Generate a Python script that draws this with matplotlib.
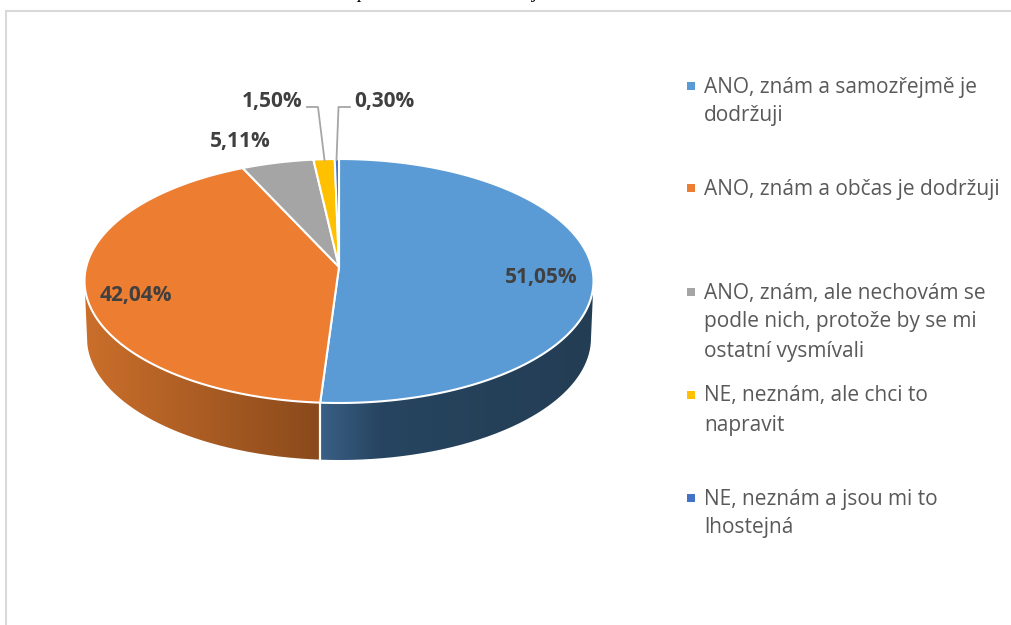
import numpy as np
import matplotlib
matplotlib.use("Agg")
import matplotlib.pyplot as plt
from matplotlib.colors import LinearSegmentedColormap
from matplotlib.patches import PathPatch, Rectangle
from matplotlib.path import Path

# Data
labels = [
    "ANO, znám a samozřejmě je\ndodržuji",
    "ANO, znám a občas je dodržuji",
    "ANO, znám, ale nechovám se\npodle nich, protože by se mi\nostatní vysmívali",
    "NE, neznám, ale chci to\nnapravit",
    "NE, neznám a jsou mi to\nlhostejná",
]
values = [51.05, 42.04, 5.11, 1.50, 0.30]
value_labels = ["51,05%", "42,04%", "5,11%", "1,50%", "0,30%"]
colors = ["#5b9bd5", "#ed7d31", "#a5a5a5", "#ffc000", "#4472c4"]

# Layout in image pixels
W, H = 1012, 625
cx, cy, rx, ry = 339, 281, 254.5, 122
depth = 57
bottom_rx = 252
persp = 0.115  # pie centre sits above the centre of the ellipse
legend_y = [87, 189, 293, 396, 499]
label_pos = [(541, 278), (136, 296), (240, 142), (272, 102), (384, 102)]
font = "Open Sans"
LINE = 29


# pie data space: unit circle, stretched to the ellipse
def X(px):
    return (px - cx) / rx


def Y(py):
    return (cy - py) / ry


def project(deg):
    # clockwise angle from the top -> point on the tilted pie
    a = np.radians(deg)
    x, y = np.sin(a), np.cos(a)
    d = 1 + persp * y
    return x * np.sqrt(1 - persp ** 2) / d, (y + persp) / d


fig = plt.figure(figsize=(W / 100, H / 100), dpi=100)
ax = fig.add_axes([0, 0, 1, 1])


def wall(a0, a1, stops, x0, x1):
    # side of the pie between two clockwise ellipse angles
    a = np.radians(np.linspace(a0, a1, 200))
    top = np.column_stack([np.sin(a), np.cos(a)])
    bot = np.column_stack([np.sin(a) * bottom_rx / rx, np.cos(a) - depth / ry])
    verts = np.vstack([top, bot[::-1], top[:1]])
    patch = PathPatch(Path(verts), fc="none", ec="none")
    ax.add_patch(patch)
    cmap = LinearSegmentedColormap.from_list("w", stops)
    im = ax.imshow(np.linspace(0, 1, 256)[None, :], cmap=cmap, aspect="auto",
                   extent=(X(x0), X(x1), -2, 1.1), zorder=1)
    im.set_clip_path(patch)


edges = np.concatenate([[0], np.cumsum(values)]) * 360 / sum(values)

sx, sy = project(edges[1])
split = np.degrees(np.arctan2(sx, sy)) % 360
wall(90, split, [(0, "#3a5f86"), (0.22, "#274560"), (1, "#233d54")], 320, 593)
wall(split, 270, [(0, "#cb6f2b"), (1, "#8a4a1c")], 84, 320)

# white divider on the wall
ax.plot([sx, sx], [sy, sy - depth / ry], color="white", lw=1.6, zorder=2)

# top of the pie
for i, col in enumerate(colors):
    px_, py_ = project(np.linspace(edges[i], edges[i + 1], 200))
    ax.fill(np.r_[0, px_], np.r_[persp, py_], facecolor=col,
            edgecolor="white", linewidth=1.5, zorder=3)

ax.set_xlim(X(0), X(W))
ax.set_ylim(Y(H), Y(0))
ax.axis("off")

# leader lines
ax.plot([X(307), X(318), X(324.5)], [Y(107), Y(107), Y(160)], color="#a6a6a6", lw=1.3, zorder=4)
ax.plot([X(350), X(338.5), X(336.5)], [Y(107), Y(107), Y(160)], color="#a6a6a6", lw=1.3, zorder=4)

for txt, (px, py) in zip(value_labels, label_pos):
    ax.text(X(px), Y(py), txt, family=font, fontweight="bold", fontsize=15,
            color="#404040", ha="center", va="center", zorder=5)

# legend
for lab, col, ly in zip(labels, colors, legend_y):
    ax.add_patch(Rectangle((X(687), Y(ly + 3)), 8 / rx, 8 / ry, fc=col, ec="none", zorder=5))
    for i, line in enumerate(lab.split("\n")):
        ax.text(X(704), Y(ly + i * LINE), line, family=font, fontsize=15.05,
                color="#595959", ha="left", va="center", zorder=5)

# chart frame, cropped by the image edge
ax.plot([X(6), X(6)], [Y(H), Y(11)], color="#d9d9d9", lw=1.5, zorder=0)
ax.plot([X(6), X(W)], [Y(11), Y(11)], color="#d9d9d9", lw=1.5, zorder=0)

# caption above the chart is cut off, only descenders show
ax.text(X(362), Y(-2), "p", family="Liberation Serif", style="italic", fontsize=14,
        color="black", ha="center", va="baseline")
ax.text(X(535), Y(-2), "j", family="Liberation Serif", style="italic", fontsize=14,
        color="black", ha="center", va="baseline")

fig.savefig("out.png", dpi=100)
